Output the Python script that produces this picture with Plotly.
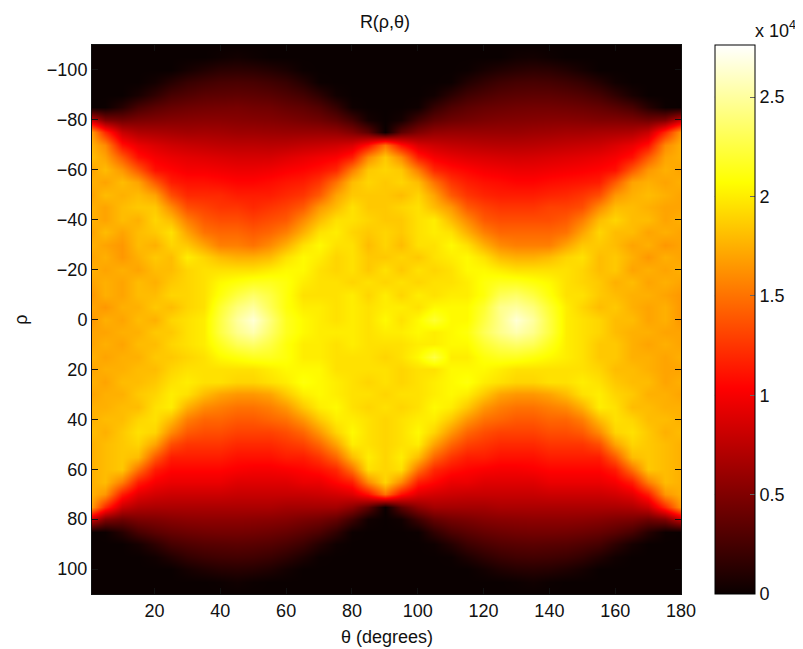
import plotly.graph_objects as go

theta_deg = [1, 5, 10, 15, 20, 25, 30, 35, 40, 45, 50, 55, 60, 65, 70, 75, 80, 85, 90,
             95, 100, 105, 110, 115, 120, 125, 130, 135, 140, 145, 150, 155, 160, 165, 170, 175, 180]
rho_vals = list(range(-110, 115, 5))
# values in thousands, one row per rho, one column per theta
r_thousands = [
 [0,0,0,0,0,0,0,0,0,0,0,0,0,0,0,0,0,0,0, 0,0,0,0,0,0,0,0,0,0,0,0,0,0,0,0,0,0],
 [0,0,0,0,0,0,0,0,.2,.4,.2,0,0,0,0,0,0,0,0, 0,0,0,0,0,0,0,.3,.4,.2,0,0,0,0,0,0,0,0],
 [0,0,0,0,0,0,.5,1,1.4,1.5,1.4,1.1,.7,.1,0,0,0,0,0, 0,0,0,0,.1,.6,1,1.3,1.5,1.4,1,.5,0,0,0,0,0,0],
 [0,0,0,0,.4,1.2,1.9,2.3,2.6,2.7,2.6,2.3,1.9,1.1,.1,0,0,0,0, 0,0,0,.1,1,1.7,2.2,2.5,2.6,2.5,2.2,1.8,1.1,.3,0,0,0,0],
 [0,0,0,.6,1.6,2.6,3,3.4,3.5,3.6,3.5,3.3,2.9,2.4,1.5,.3,0,0,0, 0,0,.3,1.4,2.3,2.8,3.2,3.4,3.5,3.5,3.3,3,2.5,1.6,.6,0,0,0],
 [0,.1,1.2,2.6,3.4,3.9,4.2,4.4,4.5,4.6,4.4,4.3,3.9,3.6,3,1.8,.2,0,0, 0,.2,1.8,2.9,3.5,3.9,4.1,4.3,4.4,4.4,4.3,4.1,3.8,3.3,2.6,1.2,.1,0],
 [8,5,4.4,4.8,5,5.2,5.3,5.4,5.4,5.3,5.2,5.1,4.9,4.6,4.3,3.6,2.4,.5,0, .5,2.4,3.6,4.2,4.5,4.8,5,5.1,5.2,5.3,5.3,5.2,5,5,4.8,4.4,5,8],
 [16.5,12,8,7,6.8,6.6,6.4,6.5,6.4,6.2,6.2,6.1,6,6,6,5.8,5,3.5,0, 3.5,5,5.8,6,6,6,6,6,6.2,6.3,6.5,6.5,6.7,6.8,7,8,12,16.5],
 [17.5,16,11,9.5,8.8,8.3,8,7.8,7.6,7.5,7.5,7.4,7.5,7.8,8,8.3,8.8,11,15, 11,8.8,8.2,7.8,7.6,7.4,7.3,7.3,7.4,7.6,7.8,8,8.2,8.8,9.5,11,16,17.5],
 [18,17,14,11,10,9.5,9.2,9,8.8,8.6,8.6,8.6,9,9.4,9.8,10.2,11.5,16,18.5, 16,11.5,10,9.4,9,8.8,8.6,8.5,8.6,8.8,9,9.2,9.5,10,11,14,17,17.5],
 [17,18,16.5,14,11,10.5,10,10,9.8,9.6,9.6,9.8,10.2,10.5,11,12,15.5,18.5,19, 18.5,15.5,12,11,10.5,10,9.8,9.6,9.6,9.8,10,10.2,10.5,11,14,16.5,17.5,17],
 [17.5,17,18,17,14,11.5,11,11,10.8,10.5,10.5,10.8,11.2,11.5,12.5,15,18,19,18.5, 19,18,15,12.5,11.5,11,10.8,10.5,10.5,10.8,11,11.2,11.5,14,17,17.5,17,17.5],
 [17,18,17.5,18,17,13.5,12,12,12,11.5,11.5,11.5,12,12.5,14,17,18.5,18.5,18.5, 18,19,17,14,12.5,11.8,11.5,11.5,11.5,11.8,12,12.5,13.5,16.5,17.5,18,17.5,17],
 [17.5,17,18,18.5,18.5,16,13.5,13,12.5,12.5,12,12.5,13,14,16.5,18,19.5,18.5,18.5, 19,19.5,18,16.5,14,13,12.5,12.5,12.5,13,13,13.5,16,18,18,17.5,17,17],
 [17.5,17,18,17.5,19,18,15.5,14,13.5,13.5,13,13.5,14,16,18,19.5,19.5,19,18.5, 18.5,19.5,20,18,16,14,13.5,13.5,13.5,13.5,14,15.5,18,19,18,18,17,17.5],
 [17,18,17,18,18.5,19.5,17,15,14.5,14.5,14,14.5,15.5,17.5,19.5,20,19,18.5,19, 18.5,19.5,20,19.5,17.5,15.5,14.5,14.5,14.5,14.5,15,17,19,18,18,17,17.5,17],
 [17.5,17,16.5,18,17.5,19,18.5,17,15.5,15.5,15,16,17.5,19.5,20.5,19.5,19.5,18,19, 18,19.5,19.5,20.5,19.5,17.5,16,15.5,15.5,15.5,17,18.5,18.5,18,17,17.5,16.5,17],
 [17,17.5,16.5,17.5,18.5,18,20,19,18,17.5,17.5,18,19.5,20.5,20,19,19.5,18.5,18.5, 19,18.5,19.5,20,20.5,19.5,18,17.5,17.5,18,19,19.5,18,18.5,17.5,16.5,17.5,17],
 [17.5,17,17.5,17,18,18,19,19.5,19.5,19.5,19.5,20,20.5,20.5,19.5,19,19.5,18.5,19.5, 18.5,19.5,19,19.5,20.5,20.5,20,19.5,19.5,19.5,19.5,19,18,18.5,17,17.5,17,17.5],
 [17,17.5,17,18,17.5,18.5,19,19.5,20.5,21,21.5,21.5,21,20,19.5,19.5,19,19.5,19, 19.5,19,19.5,19.5,20,21,21.5,21.5,21,20.5,19.5,19,18.5,17.5,18,17,17.5,17],
 [16.5,17.5,17,18,18,19,19,19.5,21,22.5,23.5,22.5,21,19.5,19.5,19.5,20,19,20, 19,20,19.5,20,20,21,23,23.5,22.5,21,19.5,19.5,18.5,18,17.5,17.5,17,16.5],
 [17,16.5,17.5,17.5,18.5,18,19,19.5,22,24,25,23,21,20,20,19.5,20,19.5,20, 20,19.5,20.5,20.5,20.5,22,24.5,25,24,22,20,19,18,18.5,17.5,17,17.5,16.5],
 [16.5,17.5,17,18,17.5,19,19.5,20,22.5,25,26.5,24,21.5,20.5,20,19.5,20,19.5,20.5, 19.5,20.5,22,20.5,20.5,22.5,24.5,26.5,25,22.5,20,19.5,19,18,18,17,17.5,16.5],
 [17,17,17.5,17.5,18.5,18.5,19.5,20,22.5,24.5,25.5,23.5,21.5,20.5,20,20,20,19.5,20, 20,20.5,20,20.5,21,23,24.5,25.5,24.5,22.5,20,19.5,19,18,17.5,17.5,17,17],
 [17,17.5,17,18,18,19,19.5,20,21.5,23,23.5,22.5,21,20,20,19.5,20,19.5,19.5, 19.5,20,20,20.5,20.5,22,23,23.5,23,21.5,20,19.5,18.5,18.5,17.5,17,17.5,17],
 [17.5,17,17.5,17.5,18.5,18.5,19,19.5,20.5,21,21.5,21.5,21,20,20,19.5,19.5,19.5,19, 19.5,20.5,22.5,20,20,21,21.5,21.5,21,20.5,20,19.5,18.5,18.5,17.5,17.5,17,17.5],
 [17,17.5,17.5,18,18,19,19.5,19.5,19.5,19.5,19.5,20,20.5,20.5,20.5,19.5,19.5,19.5,19.5, 19,19.5,19.5,20.5,20.5,20.5,20,19.5,19.5,19.5,19.5,19.5,19,18,18,17.5,17,17],
 [17.5,17,18,18,18.5,19.5,20,19.5,19.5,19,19,19.5,20,21,20.5,20,19.5,19,19.5, 19,19.5,20,20.5,21,20,19.5,19,19,19.5,19.5,20,19.5,18.5,18,18,17,17.5],
 [17,17.5,17.5,18.5,19,20,19.5,18,17,16.5,16.5,17,18.5,20,20.5,20,19.5,19.5,19, 19.5,19.5,20,20.5,20,18.5,17,16.5,16.5,17,18,19.5,20,19,18.5,17.5,17.5,17],
 [17.5,17.5,18,18,19.5,20,17.5,16,15.5,15,15,15.5,16.5,18.5,20,20.5,19.5,19,19.5, 19,19.5,20.5,20,18.5,16.5,15.5,15,15,15.5,16,17.5,20,19.5,18,18,17.5,17.5],
 [17.5,18,18,19,19.5,18,15.5,14.5,14.5,14,14,14.5,15,16.5,18.5,20,20,19.5,19, 19.5,20,20,18.5,16.5,15,14.5,14,14,14.5,14.5,15.5,18,19.5,19,18,18,17.5],
 [18,17.5,18.5,19.5,19,16,14,13.5,13.5,13,13,13,13.5,14.5,16.5,19,20.5,19.5,19, 19.5,20.5,19,16.5,14.5,13.5,13,13,13,13.5,13.5,14,16,19,19.5,18.5,17.5,18],
 [17.5,18,18.5,19,17,13.5,12.5,12.5,12.5,12,12,12,12.5,13,14.5,17,20,19.5,19, 19.5,20,17,14.5,13,12.5,12,12,12,12.5,12.5,12.5,13.5,17,19,18.5,18,17.5],
 [17.5,18,18.5,18,14,11.5,11.5,11.5,11.5,11,11,11,11.5,11.5,12.5,14.5,18,20,19, 20,18,14.5,12.5,11.5,11.5,11,11,11,11.5,11.5,11.5,11.5,14,18,18.5,18,17.5],
 [17.5,18,18.5,15,11.5,10.5,10.5,10.5,10.5,10.2,10,10,10.2,10.5,11,12,15,19.5,19, 19.5,15,12,11,10.5,10.2,10,10,10.2,10.5,10.5,10.5,10.5,11.5,15,18.5,18,17.5],
 [17.5,18,15.5,11.5,10,9.5,9.5,9.5,9.5,9,9,9,9,9.5,9.5,10.5,11.5,16,19, 16,11.5,10.5,9.5,9.5,9,9,9,9,9.5,9.5,9.5,9.5,10,11.5,15.5,18,17.5],
 [17.5,16.5,11.5,9.2,8.5,8.2,8.2,8.2,8.2,8,8,8,8,8,8.2,8.5,9,11,15, 11,9,8.5,8.2,8,8,8,8,8,8.2,8.2,8.2,8.2,8.5,9.2,11.5,16.5,17.5],
 [16.5,12,8,7,6.8,6.8,6.8,6.8,6.8,6.8,6.8,6.8,6.5,6.5,6.5,6.5,5.5,3.5,0, 3.5,5.5,6.5,6.5,6.5,6.5,6.8,6.8,6.8,6.8,6.8,6.8,6.8,6.8,7,8,12,16.5],
 [8,5,4.2,4.8,5,5.3,5.5,5.6,5.6,5.6,5.5,5.4,5.2,4.8,4.5,3.8,2.2,.3,0, .3,2.2,3.8,4.5,4.8,5.2,5.4,5.5,5.6,5.6,5.6,5.5,5.3,5,4.8,4.2,5,8],
 [0,.1,1.2,2.6,3.4,3.9,4.2,4.4,4.5,4.5,4.4,4.2,3.9,3.4,2.8,1.6,.1,0,0, 0,.1,1.6,2.8,3.4,3.9,4.2,4.4,4.5,4.5,4.4,4.2,3.9,3.4,2.6,1.2,.1,0],
 [0,0,0,.5,1.5,2.5,2.9,3.2,3.3,3.4,3.3,3.1,2.7,2.1,1.1,.2,0,0,0, 0,0,.2,1.1,2.1,2.7,3.1,3.3,3.4,3.3,3.2,2.9,2.5,1.5,.5,0,0,0],
 [0,0,0,0,.3,1,1.7,2.1,2.3,2.4,2.3,2,1.5,.8,.1,0,0,0,0, 0,0,0,.1,.8,1.5,2,2.3,2.4,2.3,2.1,1.7,1,.3,0,0,0,0],
 [0,0,0,0,0,0,.5,.9,1.2,1.3,1.2,.9,.4,0,0,0,0,0,0, 0,0,0,0,0,.4,.9,1.2,1.3,1.2,.9,.5,0,0,0,0,0,0],
 [0,0,0,0,0,0,0,0,.1,.3,.1,0,0,0,0,0,0,0,0, 0,0,0,0,0,0,0,.1,.3,.1,0,0,0,0,0,0,0,0],
 [0,0,0,0,0,0,0,0,0,0,0,0,0,0,0,0,0,0,0, 0,0,0,0,0,0,0,0,0,0,0,0,0,0,0,0,0,0],
]
z_max = 27620
x_ticks = [20, 40, 60, 80, 100, 120, 140, 160, 180]
y_ticks = [-100, -80, -60, -40, -20, 0, 20, 40, 60, 80, 100]
cb_ticks = [0, 5000, 10000, 15000, 20000, 25000]
cb_labels = ["0", "0.5", "1", "1.5", "2", "2.5"]

hot = [[0, "#0a0000"], [0.375, "#ff0000"], [0.75, "#ffff00"], [1, "#ffffff"]]
FONT = "Liberation Sans, Arial, sans-serif"
TXT = "#111111"
PLOT_W = 591
cb_x = (715 - 90) / PLOT_W

fig = go.Figure(go.Heatmap(
    x=theta_deg, y=rho_vals,
    z=[[v * 1000 for v in row] for row in r_thousands],
    zmin=0, zmax=z_max, zsmooth="best", colorscale=hot,
    colorbar=dict(
        x=cb_x, xanchor="left", y=0, yanchor="bottom", len=1, lenmode="fraction",
        thickness=40, thicknessmode="pixels", xpad=0, ypad=0,
        outlinecolor="black", outlinewidth=1,
        tickmode="array", tickvals=cb_ticks, ticktext=cb_labels,
        ticks="inside", ticklen=5, tickcolor="#666666",
        tickfont=dict(family=FONT, size=18, color=TXT),
    ),
))
# left-hand colourbar ticks, placed from the same tick values
shapes = [dict(type="line", xref="paper", yref="paper",
               x0=cb_x, x1=cb_x + 5 / PLOT_W, y0=v / z_max, y1=v / z_max,
               line=dict(color="#666666", width=1)) for v in cb_ticks[1:]]
fig.update_layout(
    width=795, height=641, autosize=False,
    margin=dict(l=82, r=122, t=37, b=55),
    paper_bgcolor="white", plot_bgcolor="black",
    font=dict(family=FONT, size=18, color=TXT),
    shapes=shapes,
    title=dict(text="R(ρ,θ)", x=377 / 795, xanchor="center", y=1 - 14 / 641, yanchor="middle",
               font=dict(family=FONT, size=18, color=TXT)),
    xaxis=dict(range=[1, 180], tickvals=x_ticks, ticks="inside", ticklen=6, tickcolor="#111111",
               showline=True, linecolor="#111111", mirror="ticks", showgrid=False, zeroline=False),
    yaxis=dict(range=[110, -110], tickvals=y_ticks, ticks="inside", ticklen=6, tickcolor="#111111",
               showline=True, linecolor="#111111", mirror="ticks", showgrid=False, zeroline=False,
               tickformat="d", title=dict(text="ρ", standoff=14, font=dict(size=18))),
    annotations=[
        dict(text="x 10<sup>4</sup>", xref="paper", yref="paper", x=(755 - 90) / PLOT_W,
             y=1.0, xanchor="left", yanchor="bottom", showarrow=False,
             xshift=-2, yshift=2, font=dict(family=FONT, size=18, color=TXT)),
        dict(text="θ (degrees)", xref="paper", yref="paper", x=0.5, y=0, xanchor="center",
             yanchor="top", yshift=-31, showarrow=False, font=dict(family=FONT, size=18, color=TXT)),
    ],
)
fig.write_html("out.html")
